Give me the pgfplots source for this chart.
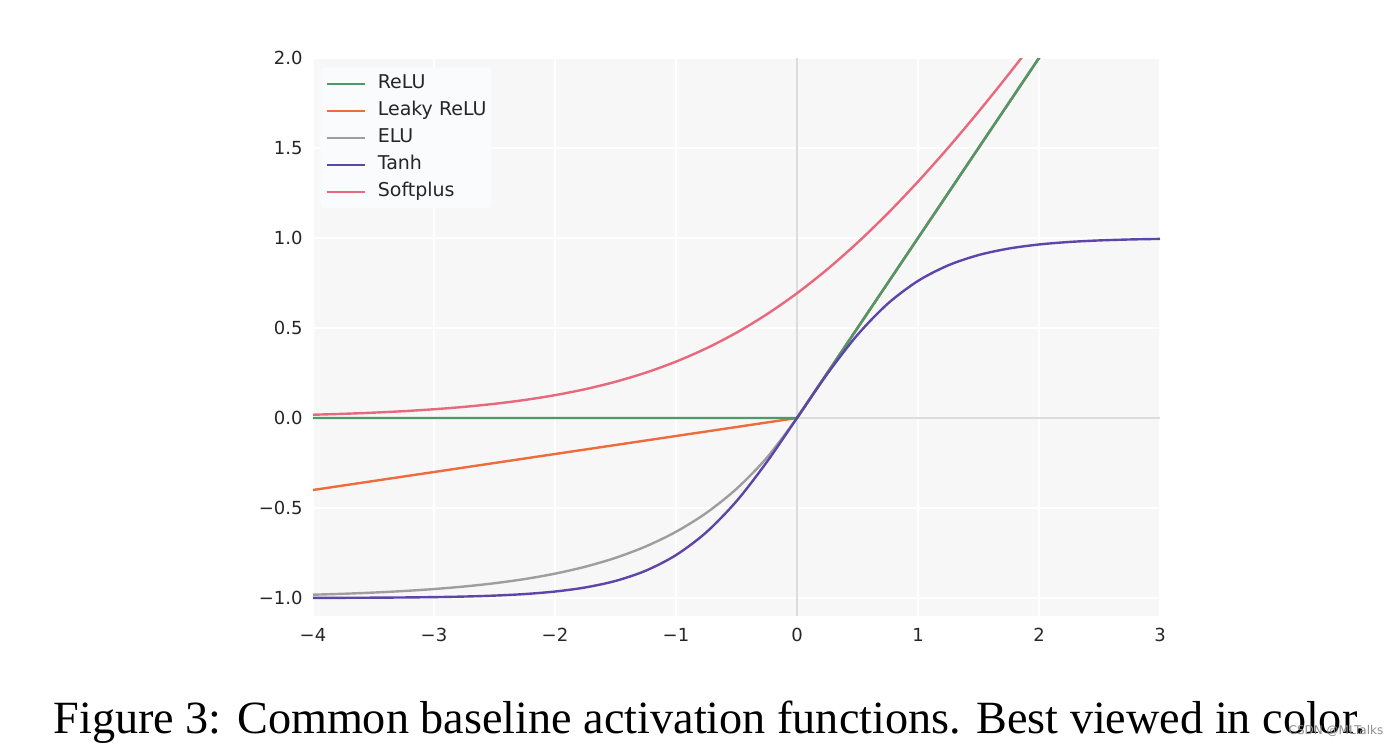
\documentclass[border=0pt]{standalone}
\usepackage{fontspec}
\setmainfont{DejaVu Sans}
\newfontfamily\capfont{Liberation Serif}
\usepackage{pgfplots}
\pgfplotsset{compat=1.18}

\definecolor{bg}{HTML}{F7F7F7}
\definecolor{zeroline}{HTML}{DCDCDC}
\definecolor{legbg}{HTML}{FAFBFC}
\definecolor{cRelu}{HTML}{4C9A68}
\definecolor{cLeaky}{HTML}{EE6B3B}
\definecolor{cElu}{HTML}{9E9E9E}
\definecolor{cTanh}{HTML}{5E45A9}
\definecolor{cSoft}{HTML}{E8687D}

\begin{document}
\begin{tikzpicture}
\path[use as bounding box] (-156.5pt,-65pt) rectangle (542.5pt,308pt);
\begin{axis}[
    at={(0pt,0pt)}, anchor=south west,
    scale only axis,
    width=423.5pt, height=279pt,
    xmin=-4, xmax=3, ymin=-1.1, ymax=2,
    axis background/.style={fill=bg},
    axis line style={draw=none},
    tick style={draw=none},
    major tick length=0pt,
    xtick={-4,-3,-2,-1,0,1,2,3},
    xticklabels={−4,−3,−2,−1,0,1,2,3},
    ytick={-1,-0.5,0,0.5,1,1.5,2},
    yticklabels={−1.0,−0.5,0.0,0.5,1.0,1.5,2.0},
    ticklabel style={font=\fontsize{9}{11}\selectfont, text=black!85},
    xticklabel style={inner sep=0pt, anchor=north, yshift=-6pt},
    yticklabel style={inner sep=0pt, anchor=east, xshift=-5pt},
    grid=major,
    major grid style={white, line width=0.9pt},
    legend cell align=left,
    legend style={at={(axis description cs:0.0083,0.984)}, anchor=north west,
        draw=none, fill=legbg, rounded corners=2pt,
        font=\fontsize{9.5}{11}\selectfont, text=black!85,
        inner xsep=2.5pt, inner ysep=3.75pt, row sep=4.5pt,
        nodes={inner sep=0pt, text height=7pt, text depth=2pt},
        /tikz/every odd column/.append style={column sep=6pt}},
    legend image code/.code={\draw[#1, line width=1.2pt] (0pt,0pt) -- (19pt,0pt);},
    every axis plot/.append style={line width=1.2pt},
]
% zero lines
\addplot[zeroline, line width=1pt, forget plot] coordinates {(-4,0) (3,0)};
\addplot[zeroline, line width=1pt, forget plot] coordinates {(0,-1.1) (0,2)};

% ELU
\addplot[cElu, smooth, forget plot] coordinates {
(-4,-0.98168) (-3.75,-0.97648) (-3.5,-0.96980) (-3.25,-0.96123) (-3,-0.95021)
(-2.75,-0.93607) (-2.5,-0.91792) (-2.25,-0.89460) (-2,-0.86466) (-1.75,-0.82623)
(-1.5,-0.77687) (-1.25,-0.71350) (-1,-0.63212) (-0.75,-0.52763) (-0.5,-0.39347)
(-0.25,-0.22120) (0,0)};
\addplot[cElu, forget plot] coordinates {(0,0) (3,3)};
% Leaky ReLU
\addplot[cLeaky, forget plot] coordinates {(-4,-0.4) (0,0) (3,3)};
% ReLU
\addplot[cRelu, forget plot] coordinates {(-4,0) (0,0) (3,3)};
% Tanh
\addplot[cTanh, smooth, forget plot] coordinates {
(-4,-0.99933) (-3.75,-0.99889) (-3.5,-0.99818) (-3.25,-0.99700) (-3,-0.99505)
(-2.75,-0.99186) (-2.5,-0.98661) (-2.25,-0.97803) (-2,-0.96403) (-1.75,-0.94138)
(-1.5,-0.90515) (-1.25,-0.84828) (-1,-0.76159) (-0.75,-0.63515) (-0.5,-0.46212)
(-0.25,-0.24492) (0,0) (0.25,0.24492) (0.5,0.46212) (0.75,0.63515) (1,0.76159)
(1.25,0.84828) (1.5,0.90515) (1.75,0.94138) (2,0.96403) (2.25,0.97803)
(2.5,0.98661) (2.75,0.99186) (3,0.99505)};
% Softplus
\addplot[cSoft, smooth, forget plot] coordinates {
(-4,0.018150) (-3.75,0.023246) (-3.5,0.029750) (-3.25,0.038041) (-3,0.048587)
(-2.75,0.061967) (-2.5,0.078889) (-2.25,0.100208) (-2,0.126928) (-1.75,0.160231)
(-1.5,0.201413) (-1.25,0.251929) (-1,0.313262) (-0.75,0.386871) (-0.5,0.474077)
(-0.25,0.575939) (0,0.693147) (0.25,0.825939) (0.5,0.974077) (0.75,1.136871)
(1,1.313262) (1.25,1.501929) (1.5,1.701413) (1.75,1.910231) (2,2.126928)
(2.25,2.350208)};

\addlegendimage{cRelu}\addlegendentry{ReLU}
\addlegendimage{cLeaky}\addlegendentry{Leaky ReLU}
\addlegendimage{cElu}\addlegendentry{ELU}
\addlegendimage{cTanh}\addlegendentry{Tanh}
\addlegendimage{cSoft}\addlegendentry{Softplus}
\end{axis}
\node[anchor=base, inner sep=0pt] at (198.5pt,-58.5pt)
    {\capfont\fontsize{23.1}{27}\selectfont Figure 3: Common baseline activation functions. Best viewed in color.};
\node[anchor=center, inner sep=0pt, text=black!45] at (511.5pt,-57.5pt)
    {\fontsize{6}{7}\selectfont CSDN @MLTalks};
\end{tikzpicture}
\end{document}
